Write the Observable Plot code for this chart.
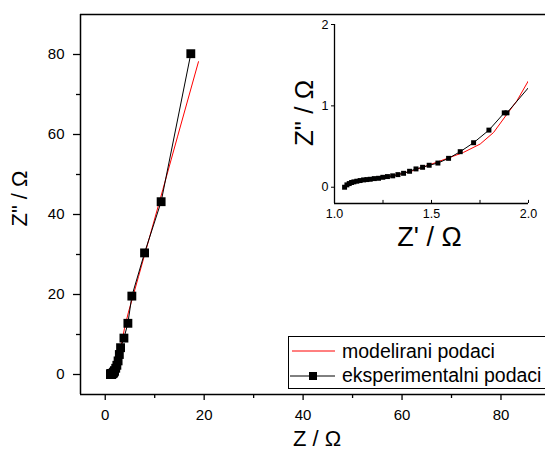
<!DOCTYPE html>
<html><head><meta charset="utf-8">
<script src="https://cdn.jsdelivr.net/npm/d3@7"></script>
<script src="https://cdn.jsdelivr.net/npm/@observablehq/plot@0.6"></script>
<style>
body{margin:0;background:#fff;font-family:"Liberation Sans",Arial,sans-serif;}
#wrap{position:relative;width:545px;height:455px;overflow:hidden;}
#wrap svg{position:absolute;background:transparent;}
</style></head><body><div id="wrap"></div>
<script>
// experimental data (Z', Z'')
const expZr = [1.052,1.064,1.076,1.088,1.100,1.115,1.132,1.150,1.167,1.184,1.205,1.227,1.249,1.273,1.300,1.327,1.356,1.387,1.420,1.454,1.488,1.533,1.588,1.648,1.717,1.796,1.875,1.889,2.12,2.35,2.60,2.85,3.10,3.78,4.58,5.38,7.95,11.3,17.3];
const expZi = [0.000,0.029,0.045,0.058,0.066,0.074,0.082,0.090,0.094,0.098,0.106,0.110,0.122,0.131,0.140,0.155,0.171,0.196,0.225,0.245,0.270,0.297,0.355,0.437,0.547,0.702,0.914,0.914,1.56,2.30,3.40,5.00,6.70,9.10,12.8,19.6,30.4,43.2,80.2];
// model data
const modZr = [1.052,1.10,1.15,1.20,1.30,1.40,1.493,1.588,1.665,1.751,1.82,1.889,1.94,2.004,2.2,2.5,2.9,3.4,3.9,4.7,5.6,6.73,8.75,11.66,14.6,18.85];
const modZi = [0.000,0.066,0.088,0.100,0.140,0.200,0.278,0.360,0.428,0.531,0.673,0.898,1.061,1.327,2.1,3.4,5.6,8.3,11.6,15.6,19.5,24.5,33.4,46.3,59.4,78.2];

const mainXTicks = [0,20,40,60,80];
const mainXMinor = [10,30,50,70];
const mainYTicks = [0,20,40,60,80];
const mainYMinor = [10,30,50,70];
const insetXTicks = [1.0,1.5,2.0];
const insetXMinor = [1.25,1.75];
const insetYTicks = [0,1,2];
const legendLabels = ["modelirani podaci","eksperimentalni podaci"];
const mainXTitle = "Z / Ω";
const mainYTitle = "Z\" / Ω";
const insetXTitle = "Z' / Ω";
const insetYTitle = "Z\" / Ω";

const exp = expZr.map((x,i)=>({x, y: expZi[i]}));
const mod = modZr.map((x,i)=>({x, y: modZi[i]}));
const font = "'Liberation Sans', Arial, sans-serif";
const wrap = document.getElementById("wrap");

const main = Plot.plot({
  width: 545, height: 455,
  marginLeft: 80, marginRight: 0, marginTop: 14, marginBottom: 61,
  x: {domain: [-5, 89]},
  y: {domain: [-5, 90]},
  style: {fontFamily: font, background: "transparent", color: "black"},
  marks: [
    Plot.axisX(mainXTicks, {tickSize: 6, tickPadding: 9, fontSize: 15, label: null, strokeWidth: 1.3}),
    Plot.axisX(mainXMinor, {tickSize: 4, fill: "none", label: null, strokeWidth: 1.3}),
    Plot.axisY(mainYTicks, {tickSize: 7, tickPadding: 9, fontSize: 15, label: null, strokeWidth: 1.3}),
    Plot.axisY(mainYMinor, {tickSize: 4, fill: "none", label: null, strokeWidth: 1.3}),
    Plot.ruleX([-5], {strokeWidth: 1.5}),
    Plot.ruleY([-5], {strokeWidth: 1.5}),
    Plot.ruleY([90], {strokeWidth: 1.5}),
    Plot.line(mod, {x: "x", y: "y", stroke: "red", strokeWidth: 1}),
    Plot.line(exp, {x: "x", y: "y", stroke: "black", strokeWidth: 1}),
    Plot.dot(exp, {x: "x", y: "y", symbol: "square", r: 5, fill: "black", stroke: "none"}),
    Plot.text([mainXTitle], {frameAnchor: "bottom", dx: 4, dy: 51, fontSize: 22}),
    Plot.text([mainYTitle], {frameAnchor: "left", textAnchor: "middle", rotate: -90, dx: -61, dy: -6, fontSize: 22})
  ]
});
main.style.left = "0px"; main.style.top = "0px";
wrap.appendChild(main);

const inset = Plot.plot({
  width: 275, height: 250,
  marginLeft: 64, marginRight: 17, marginTop: 14, marginBottom: 57,
  x: {domain: [1, 2]},
  y: {domain: [-0.2, 2]},
  style: {fontFamily: font, background: "transparent", color: "black"},
  marks: [
    Plot.axisX(insetXTicks, {tickSize: 0, tickPadding: 6, fontSize: 12.5, tickFormat: d3.format(".1f"), label: null}),
    Plot.ruleX([...insetXTicks, ...insetXMinor], {y1: -0.2, y2: -0.162, strokeWidth: 1}),
    Plot.axisY(insetYTicks, {tickSize: 3, tickPadding: 3, fontSize: 12.5, tickFormat: d3.format("d"), label: null}),
    Plot.ruleX([1], {strokeWidth: 1.3}),
    Plot.ruleY([-0.2], {strokeWidth: 1.3}),
    Plot.line(mod, {x: "x", y: "y", stroke: "red", strokeWidth: 1, clip: true}),
    Plot.line(exp, {x: "x", y: "y", stroke: "black", strokeWidth: 1, clip: true}),
    Plot.dot(exp, {x: "x", y: "y", symbol: "square", r: 2.8, fill: "black", stroke: "none", clip: true}),
    Plot.text([insetXTitle], {frameAnchor: "bottom", dx: -2, dy: 42, fontSize: 27}),
    Plot.text([insetYTitle], {frameAnchor: "left", textAnchor: "middle", rotate: -90, dx: -30, dy: -1, fontSize: 26})
  ]
});
inset.style.left = "270px"; inset.style.top = "10px";
wrap.appendChild(inset);

// legend
const leg = d3.create("svg").attr("width", 260).attr("height", 54)
  .style("left", "288px").style("top", "336px").style("font-family", font);
leg.append("rect").attr("x", 0.5).attr("y", 0.5).attr("width", 300).attr("height", 52)
  .attr("fill", "white").attr("stroke", "black").attr("stroke-width", 1);
leg.append("line").attr("x1", 4).attr("x2", 47).attr("y1", 15).attr("y2", 15).attr("stroke", "red").attr("stroke-width", 1);
leg.append("line").attr("x1", 2).attr("x2", 47).attr("y1", 40).attr("y2", 40).attr("stroke", "black").attr("stroke-width", 1);
leg.append("rect").attr("x", 21).attr("y", 36).attr("width", 8).attr("height", 8).attr("fill", "black");
leg.selectAll("text.lab").data(legendLabels).join("text").attr("class", "lab")
  .attr("x", 54).attr("y", (d,i)=> i === 0 ? 22 : 46)
  .attr("font-size", 19.5).attr("fill", "black").text(d=>d);
wrap.appendChild(leg.node());
</script></body></html>
